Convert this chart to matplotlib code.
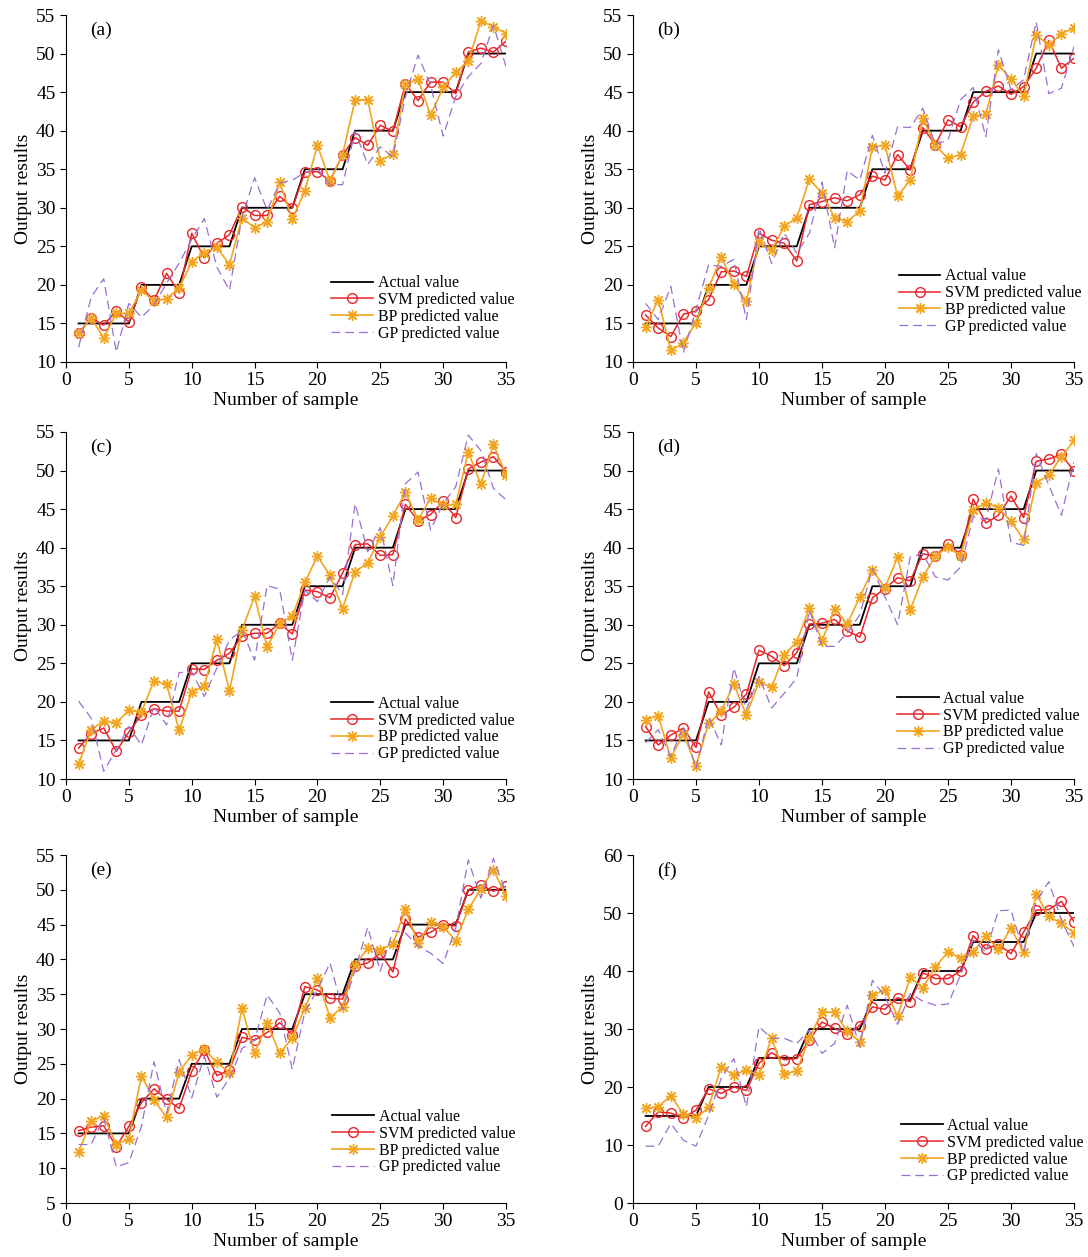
import matplotlib
matplotlib.use("Agg")
import matplotlib.pyplot as plt
import numpy as np

plt.rcParams['font.family'] = ['Liberation Serif', 'DejaVu Serif']
plt.rcParams['mathtext.fontset'] = 'stix'

samples = list(range(1, 36))
actual = [15] * 5 + [20] * 4 + [25] * 4 + [30] * 5 + [35] * 4 + [40] * 4 + [45] * 5 + [50] * 4

# panel (a)
a_svm = [13.7, 15.7, 14.8, 16.6, 15.2, 19.7, 18.0, 21.5, 19.0, 26.7, 23.5, 25.4, 26.5, 30.1, 29.0, 29.0, 31.5, 30.0,
         34.6, 34.7, 33.5, 36.9, 39.1, 38.1, 40.7, 39.9, 46.1, 43.9, 46.3, 46.3, 44.8, 50.2, 50.7, 50.2, 51.6]
a_bp = [13.7, 15.7, 13.1, 16.3, 16.3, 19.3, 17.9, 18.2, 19.6, 23.0, 24.2, 24.9, 22.6, 28.7, 27.4, 28.2, 33.3, 28.5,
        32.2, 38.1, 33.5, 36.9, 44.0, 44.0, 36.1, 37.0, 46.0, 46.7, 42.0, 45.6, 47.6, 49.0, 54.2, 53.5, 52.6]
a_gp = [11.9, 18.4, 20.8, 11.3, 17.6, 15.8, 17.4, 20.2, 22.8, 25.9, 28.6, 22.3, 19.3, 28.8, 33.9, 29.7, 33.2, 33.6,
        34.5, 35.1, 33.0, 33.0, 39.9, 35.6, 37.9, 36.6, 44.4, 49.8, 45.9, 39.3, 44.4, 47.0, 48.7, 53.7, 48.3]

# panel (b)
b_svm = [16.1, 14.4, 13.3, 16.2, 16.6, 18.1, 21.7, 21.8, 21.1, 26.7, 25.8, 25.4, 23.1, 30.4, 30.8, 31.3, 30.9, 31.7,
         34.1, 33.6, 36.9, 34.9, 40.4, 38.2, 41.4, 40.5, 43.7, 45.1, 45.8, 44.7, 45.7, 48.1, 51.7, 48.1, 49.4]
b_bp = [14.5, 18.1, 11.5, 12.5, 15.1, 19.6, 23.6, 20.1, 17.9, 25.5, 24.5, 27.6, 28.7, 33.7, 31.9, 28.7, 28.2, 29.6,
        37.9, 38.1, 31.5, 33.6, 41.6, 38.1, 36.4, 36.9, 41.9, 42.1, 48.5, 46.7, 44.5, 52.4, 51.1, 52.6, 53.3]
b_gp = [17.6, 15.5, 19.8, 11.2, 16.8, 22.6, 22.4, 23.3, 15.5, 27.4, 22.8, 26.7, 24.1, 26.7, 33.3, 24.8, 34.8, 33.6,
        39.4, 34.5, 40.5, 40.4, 42.9, 38.2, 38.8, 44.0, 45.6, 39.2, 50.5, 45.3, 46.6, 54.1, 44.8, 45.5, 50.9]

# panel (c)
c_svm = [14.0, 15.9, 16.6, 13.6, 16.1, 18.3, 19.1, 18.8, 18.8, 24.3, 24.2, 25.4, 26.3, 28.5, 28.9, 28.9, 30.2, 28.8,
         34.5, 34.3, 33.5, 36.7, 40.4, 40.5, 39.0, 39.1, 45.6, 43.5, 44.3, 46.0, 43.9, 50.2, 51.1, 51.8, 49.8]
c_bp = [11.9, 16.4, 17.5, 17.3, 18.9, 18.7, 22.7, 22.3, 16.3, 21.3, 22.0, 28.1, 21.4, 29.3, 33.7, 27.1, 30.2, 31.1,
        35.5, 38.9, 36.4, 32.1, 36.9, 38.0, 41.4, 44.1, 47.2, 43.6, 46.4, 45.5, 45.6, 52.4, 48.2, 53.4, 49.4]
c_gp = [20.1, 17.9, 11.0, 13.8, 16.8, 14.4, 19.4, 17.0, 23.8, 23.9, 20.7, 24.4, 28.0, 29.3, 25.4, 35.1, 34.6, 25.4,
        34.5, 33.0, 36.2, 33.9, 45.7, 39.5, 42.6, 35.1, 48.3, 49.8, 42.3, 45.7, 47.9, 54.6, 52.6, 47.7, 46.2]

# panel (d)
d_svm = [16.8, 14.4, 15.7, 16.6, 14.1, 21.3, 18.3, 19.3, 21.0, 26.7, 25.9, 24.7, 26.4, 30.1, 30.2, 30.7, 29.2, 28.4,
         33.5, 34.7, 36.1, 35.7, 39.2, 38.9, 40.5, 39.1, 46.3, 43.2, 44.2, 46.7, 43.9, 51.2, 51.5, 52.1, 49.9]
d_bp = [17.7, 18.2, 12.7, 15.9, 11.7, 17.2, 18.8, 22.3, 18.3, 22.6, 21.9, 26.1, 27.8, 32.2, 27.9, 32.1, 30.1, 33.6,
        37.1, 34.8, 38.8, 31.9, 36.2, 38.9, 40.1, 38.9, 44.9, 45.8, 45.2, 43.4, 41.1, 48.4, 49.4, 51.8, 53.9]
d_gp = [14.7, 16.4, 12.9, 16.8, 11.4, 18.1, 14.4, 24.4, 19.0, 23.3, 19.2, 21.1, 23.1, 31.9, 27.2, 27.2, 28.9, 31.3,
        37.3, 33.6, 30.0, 38.8, 39.2, 36.2, 35.8, 37.5, 44.0, 43.6, 50.2, 40.7, 40.3, 52.2, 48.1, 44.2, 51.1]

# panel (e)
e_svm = [15.4, 15.9, 16.1, 13.1, 16.0, 19.4, 21.4, 19.9, 18.6, 23.9, 27.0, 23.3, 24.1, 28.8, 28.4, 29.5, 30.9, 29.2,
         36.1, 35.6, 34.4, 34.3, 39.0, 39.5, 40.9, 38.2, 45.8, 43.2, 43.9, 45.0, 44.8, 50.0, 50.7, 49.8, 50.5]
e_bp = [12.3, 16.8, 17.5, 13.4, 14.2, 23.3, 19.8, 17.3, 23.8, 26.3, 27.1, 25.2, 23.7, 33.0, 26.5, 30.8, 26.5, 28.7,
        33.0, 37.3, 31.6, 33.2, 39.2, 41.6, 41.4, 42.2, 47.2, 42.3, 45.4, 44.7, 42.7, 47.2, 50.1, 52.9, 49.1]
e_gp = [13.4, 13.4, 17.2, 10.2, 10.8, 16.0, 25.3, 17.9, 25.6, 20.1, 26.1, 20.2, 22.9, 27.2, 28.4, 34.9, 32.3, 24.2,
        32.5, 35.6, 39.5, 32.8, 38.5, 44.6, 38.3, 44.1, 43.8, 41.9, 40.9, 39.4, 44.5, 54.3, 48.8, 54.5, 49.5]

# panel (f)
f_svm = [13.2, 15.7, 15.5, 14.7, 16.0, 19.7, 18.9, 20.0, 19.4, 24.1, 25.9, 24.7, 24.9, 28.1, 31.2, 30.1, 29.1, 30.6,
         33.8, 33.4, 35.4, 34.7, 39.7, 38.7, 38.7, 40.0, 46.1, 43.8, 44.6, 43.0, 46.7, 50.5, 50.6, 52.0, 48.5]
f_bp = [16.3, 16.6, 18.5, 15.3, 14.6, 16.5, 23.5, 22.0, 23.0, 22.0, 28.5, 22.2, 22.8, 28.5, 32.9, 32.9, 29.6, 27.8,
        35.8, 36.8, 32.2, 38.9, 37.1, 40.7, 43.3, 42.2, 43.3, 46.0, 43.8, 47.4, 43.2, 53.3, 49.4, 48.2, 46.6]
f_gp = [9.8, 9.8, 13.7, 10.8, 9.8, 15.1, 21.5, 24.9, 16.6, 30.4, 28.4, 28.4, 27.5, 29.8, 25.8, 27.5, 34.1, 26.9,
        38.4, 35.6, 30.8, 36.1, 34.8, 34.1, 34.3, 39.3, 45.3, 43.3, 50.4, 50.5, 43.3, 52.0, 55.4, 48.8, 44.2]

panel_labels = ['(a)', '(b)', '(c)', '(d)', '(e)', '(f)']
svm_all = [a_svm, b_svm, c_svm, d_svm, e_svm, f_svm]
bp_all = [a_bp, b_bp, c_bp, d_bp, e_bp, f_bp]
gp_all = [a_gp, b_gp, c_gp, d_gp, e_gp, f_gp]
ylims = [(10, 55), (10, 55), (10, 55), (10, 55), (5, 55), (0, 60)]
ysteps = [5, 5, 5, 5, 5, 10]

# axes boxes in figure fractions: left, bottom, width, height
W, H = 1088, 1257
boxes = [
    (66, 15, 506, 362), (633, 15, 1074, 362),
    (66, 432, 506, 779), (633, 432, 1074, 779),
    (66, 855, 506, 1203), (633, 855, 1074, 1203),
]
legend_pos = [(0.603, 0.25), (0.603, 0.27), (0.603, 0.24), (0.599, 0.254), (0.605, 0.27), (0.608, 0.244)]

fig = plt.figure(figsize=(W / 100, H / 100), dpi=100)

for i in range(6):
    x0, y0, x1, y1 = boxes[i]
    ax = fig.add_axes([x0 / W, 1 - y1 / H, (x1 - x0) / W, (y1 - y0) / H])
    ax.plot(samples, actual, color='black', lw=1.3, label='Actual value')
    ax.plot(samples, svm_all[i], color='#e8262b', lw=1.1, marker='o', mfc='none', mec='#e8262b',
            ms=7, mew=1.0, label='SVM predicted value')
    ax.plot(samples, bp_all[i], color='#f2a51f', lw=1.2, marker=(8, 2, 0), ms=8, mew=1.0,
            mec='#f2a51f', label='BP predicted value')
    ax.plot(samples, gp_all[i], color='#9a6fcf', lw=0.9, dashes=(7, 4), label='GP predicted value')

    ax.set_xlim(0, 35)
    ax.set_ylim(*ylims[i])
    ax.set_xticks(np.arange(0, 36, 5))
    ax.set_yticks(np.arange(ylims[i][0], ylims[i][1] + 1, ysteps[i]))
    ax.spines['top'].set_visible(False)
    ax.spines['right'].set_visible(False)
    ax.tick_params(direction='out', length=4, labelsize=14)
    ax.set_xlabel('Number of sample', fontsize=14, labelpad=1)
    ax.set_ylabel('Output results', fontsize=14, labelpad=3)
    ax.text(0.055, 0.955, panel_labels[i], transform=ax.transAxes, fontsize=14, va='center', ha='left')
    ax.legend(loc='upper left', bbox_to_anchor=legend_pos[i], frameon=False, fontsize=11.5,
              borderpad=0, borderaxespad=0, handlelength=2.6, handletextpad=0.3, labelspacing=0.05)

fig.savefig('out.png', dpi=100)
